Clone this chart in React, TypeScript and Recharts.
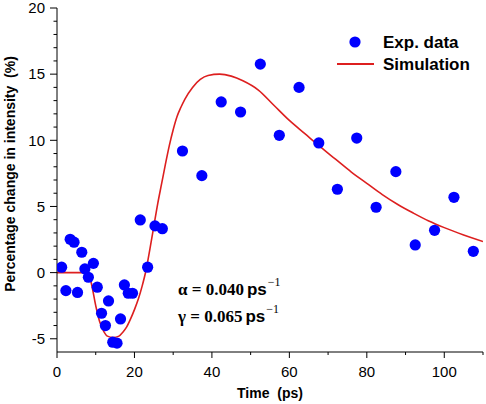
import React from 'react';
import { ComposedChart, XAxis, YAxis, Scatter, Line } from 'recharts';

// Experimental data (time in ps, percentage change)
const expTime = [1.2, 2.3, 3.4, 4.4, 5.3, 6.4, 7.2, 8.1, 9.4, 10.4, 11.5, 12.5, 13.3, 14.4, 15.5, 16.4, 17.4, 18.4, 19.5, 21.5, 23.4, 25.3, 27.2, 32.4, 37.4, 42.4, 47.4, 52.5, 57.4, 62.5, 67.6, 72.4, 77.4, 82.4, 87.5, 92.5, 97.5, 102.5, 107.5];
const expValue = [0.41, -1.36, 2.52, 2.3, -1.5, 1.54, 0.28, -0.35, 0.7, -1.1, -3.07, -4.0, -2.14, -5.26, -5.33, -3.5, -0.93, -1.56, -1.56, 3.98, 0.41, 3.53, 3.32, 9.19, 7.33, 12.9, 12.14, 15.76, 10.38, 14.0, 9.8, 6.3, 10.17, 4.94, 7.63, 2.09, 3.2, 5.69, 1.61];

// Simulation curve
const simTime = [0, 8, 9, 10, 11, 12, 13, 14.5, 16, 17, 18, 19, 20, 21, 22, 23, 24, 25, 26, 27, 28, 29, 30, 31, 32, 33, 35, 37, 39, 42, 45, 48, 52, 56, 60, 64, 68, 72, 76, 80, 84, 88, 92, 96, 100, 105, 110];
const simValue = [0, 0, -1.0, -2.5, -3.7, -4.4, -4.8, -4.9, -4.8, -4.5, -4.1, -3.5, -2.8, -2.0, -1.0, 0.2, 1.8, 3.5, 5.2, 6.7, 8.2, 9.6, 10.8, 11.8, 12.5, 13.1, 14.0, 14.6, 14.9, 15.0, 14.85, 14.5, 13.8, 12.65, 11.5, 10.5, 9.5, 8.55, 7.6, 6.75, 5.9, 5.15, 4.5, 3.9, 3.4, 2.85, 2.35];

const xMajorTicks = [0, 20, 40, 60, 80, 100];
const xAllTicks = [0, 10, 20, 30, 40, 50, 60, 70, 80, 90, 100, 110];
const yMajorTicks = [-5, 0, 5, 10, 15, 20];
const yAllTicks = [-5, -4, -3, -2, -1, 0, 1, 2, 3, 4, 5, 6, 7, 8, 9, 10, 11, 12, 13, 14, 15, 16, 17, 18, 19, 20];

const expData = expTime.map((x, i) => ({ x, y: expValue[i] }));
const simData = simTime.map((x, i) => ({ x, y: simValue[i] }));

const SANS = '"Liberation Sans", Arial, sans-serif';
const SERIF = '"Liberation Serif", "Times New Roman", serif';

const X_TICK_SIZE = 6;
const X_TICK_MARGIN = 8;
const Y_TICK_SIZE = 7;
const Y_TICK_MARGIN = 5;

const XTick = (props: any) => {
  const { x, y, payload } = props;
  const v = payload.value;
  const major = xMajorTicks.includes(v);
  const axisY = y - X_TICK_SIZE - X_TICK_MARGIN;
  return (
    <g>
      <line x1={x} x2={x} y1={axisY} y2={axisY + (major ? 6 : 3)} stroke="#000" strokeWidth={1} />
      {major && (
        <text x={x} y={y} dy={10.5} textAnchor="middle" fontFamily={SANS} fontSize={15} fill="#000">
          {v}
        </text>
      )}
    </g>
  );
};

const YTick = (props: any) => {
  const { x, y, payload } = props;
  const v = payload.value;
  const major = yMajorTicks.includes(v);
  const axisX = x + Y_TICK_SIZE + Y_TICK_MARGIN;
  return (
    <g>
      <line x1={axisX} x2={axisX - (major ? 7 : 3.5)} y1={y} y2={y} stroke="#000" strokeWidth={1} />
      {major && (
        <text x={x} y={y} dy={5.3} textAnchor="end" fontFamily={SANS} fontSize={15} fill="#000">
          {v}
        </text>
      )}
    </g>
  );
};

const YLabel = (props: any) => {
  const { viewBox } = props;
  const cx = viewBox.x + 10;
  const cy = viewBox.y + viewBox.height / 2 - 6;
  return (
    <text
      x={cx}
      y={cy}
      transform={`rotate(-90, ${cx}, ${cy})`}
      textAnchor="middle"
      dominantBaseline="central"
      fontFamily={SANS}
      fontWeight="bold"
      fontSize={14}
      fill="#000"
    >
      Percentage change in intensity&#160;&#160;(%)
    </text>
  );
};

const XLabel = (props: any) => {
  const { viewBox } = props;
  const cx = viewBox.x + viewBox.width / 2;
  return (
    <text x={cx} y={398} textAnchor="middle" fontFamily={SANS} fontWeight="bold" fontSize={14} fill="#000">
      Time&#160;&#160;(ps)
    </text>
  );
};

export default function App() {
  return (
    <div style={{ position: 'absolute', left: 0, top: 0, width: 486, height: 404, background: '#fff' }}>
      <ComposedChart width={486} height={404} margin={{ top: 8, right: 3, bottom: 0, left: 0 }}>
        <XAxis
          type="number"
          dataKey="x"
          domain={[0, 110]}
          ticks={xAllTicks}
          interval={0}
          allowDataOverflow
          height={52}
          tickLine={false}
          tickSize={X_TICK_SIZE}
          tickMargin={X_TICK_MARGIN}
          tick={<XTick />}
          axisLine={{ stroke: '#000', strokeWidth: 1 }}
          label={<XLabel />}
        />
        <YAxis
          type="number"
          dataKey="y"
          domain={[-6, 20]}
          ticks={yAllTicks}
          interval={0}
          allowDataOverflow
          width={57}
          tickLine={false}
          tickSize={Y_TICK_SIZE}
          tickMargin={Y_TICK_MARGIN}
          tick={<YTick />}
          axisLine={{ stroke: '#000', strokeWidth: 1 }}
          label={<YLabel />}
        />
        <Scatter
          data={expData}
          dataKey="y"
          isAnimationActive={false}
          shape={(p: any) => <circle cx={p.cx} cy={p.cy} r={5.6} fill="#0000ff" />}
        />
        <Line
          data={simData}
          dataKey="y"
          type="monotone"
          dot={false}
          activeDot={false}
          stroke="#dd1f1f"
          strokeWidth={1.6}
          isAnimationActive={false}
        />
      </ComposedChart>
      <svg
        width={486}
        height={404}
        style={{ position: 'absolute', left: 0, top: 0, pointerEvents: 'none' }}
      >
        <circle cx={355} cy={42} r={5.6} fill="#0000ff" />
        <text x={383} y={47.7} fontFamily={SANS} fontWeight="bold" fontSize={17} fill="#000">Exp. data</text>
        <line x1={337} x2={374} y1={64} y2={64} stroke="#dd1f1f" strokeWidth={1.8} />
        <text x={383} y={70} fontFamily={SANS} fontWeight="bold" fontSize={17} fill="#000">Simulation</text>

        <text x={178} y={295} fill="#000">
          <tspan fontFamily={SERIF} fontWeight="bold" fontSize={17}>α = 0.040</tspan>
          <tspan dx={3} fontFamily={SANS} fontWeight="bold" fontSize={17}>ps</tspan>
          <tspan dx={1} dy={-9} fontFamily={SERIF} fontSize={12}>−1</tspan>
        </text>
        <text x={178} y={322} fill="#000">
          <tspan fontFamily={SERIF} fontWeight="bold" fontSize={17}>γ = 0.065</tspan>
          <tspan dx={3} fontFamily={SANS} fontWeight="bold" fontSize={17}>ps</tspan>
          <tspan dx={1} dy={-9} fontFamily={SERIF} fontSize={12}>−1</tspan>
        </text>
      </svg>
    </div>
  );
}
